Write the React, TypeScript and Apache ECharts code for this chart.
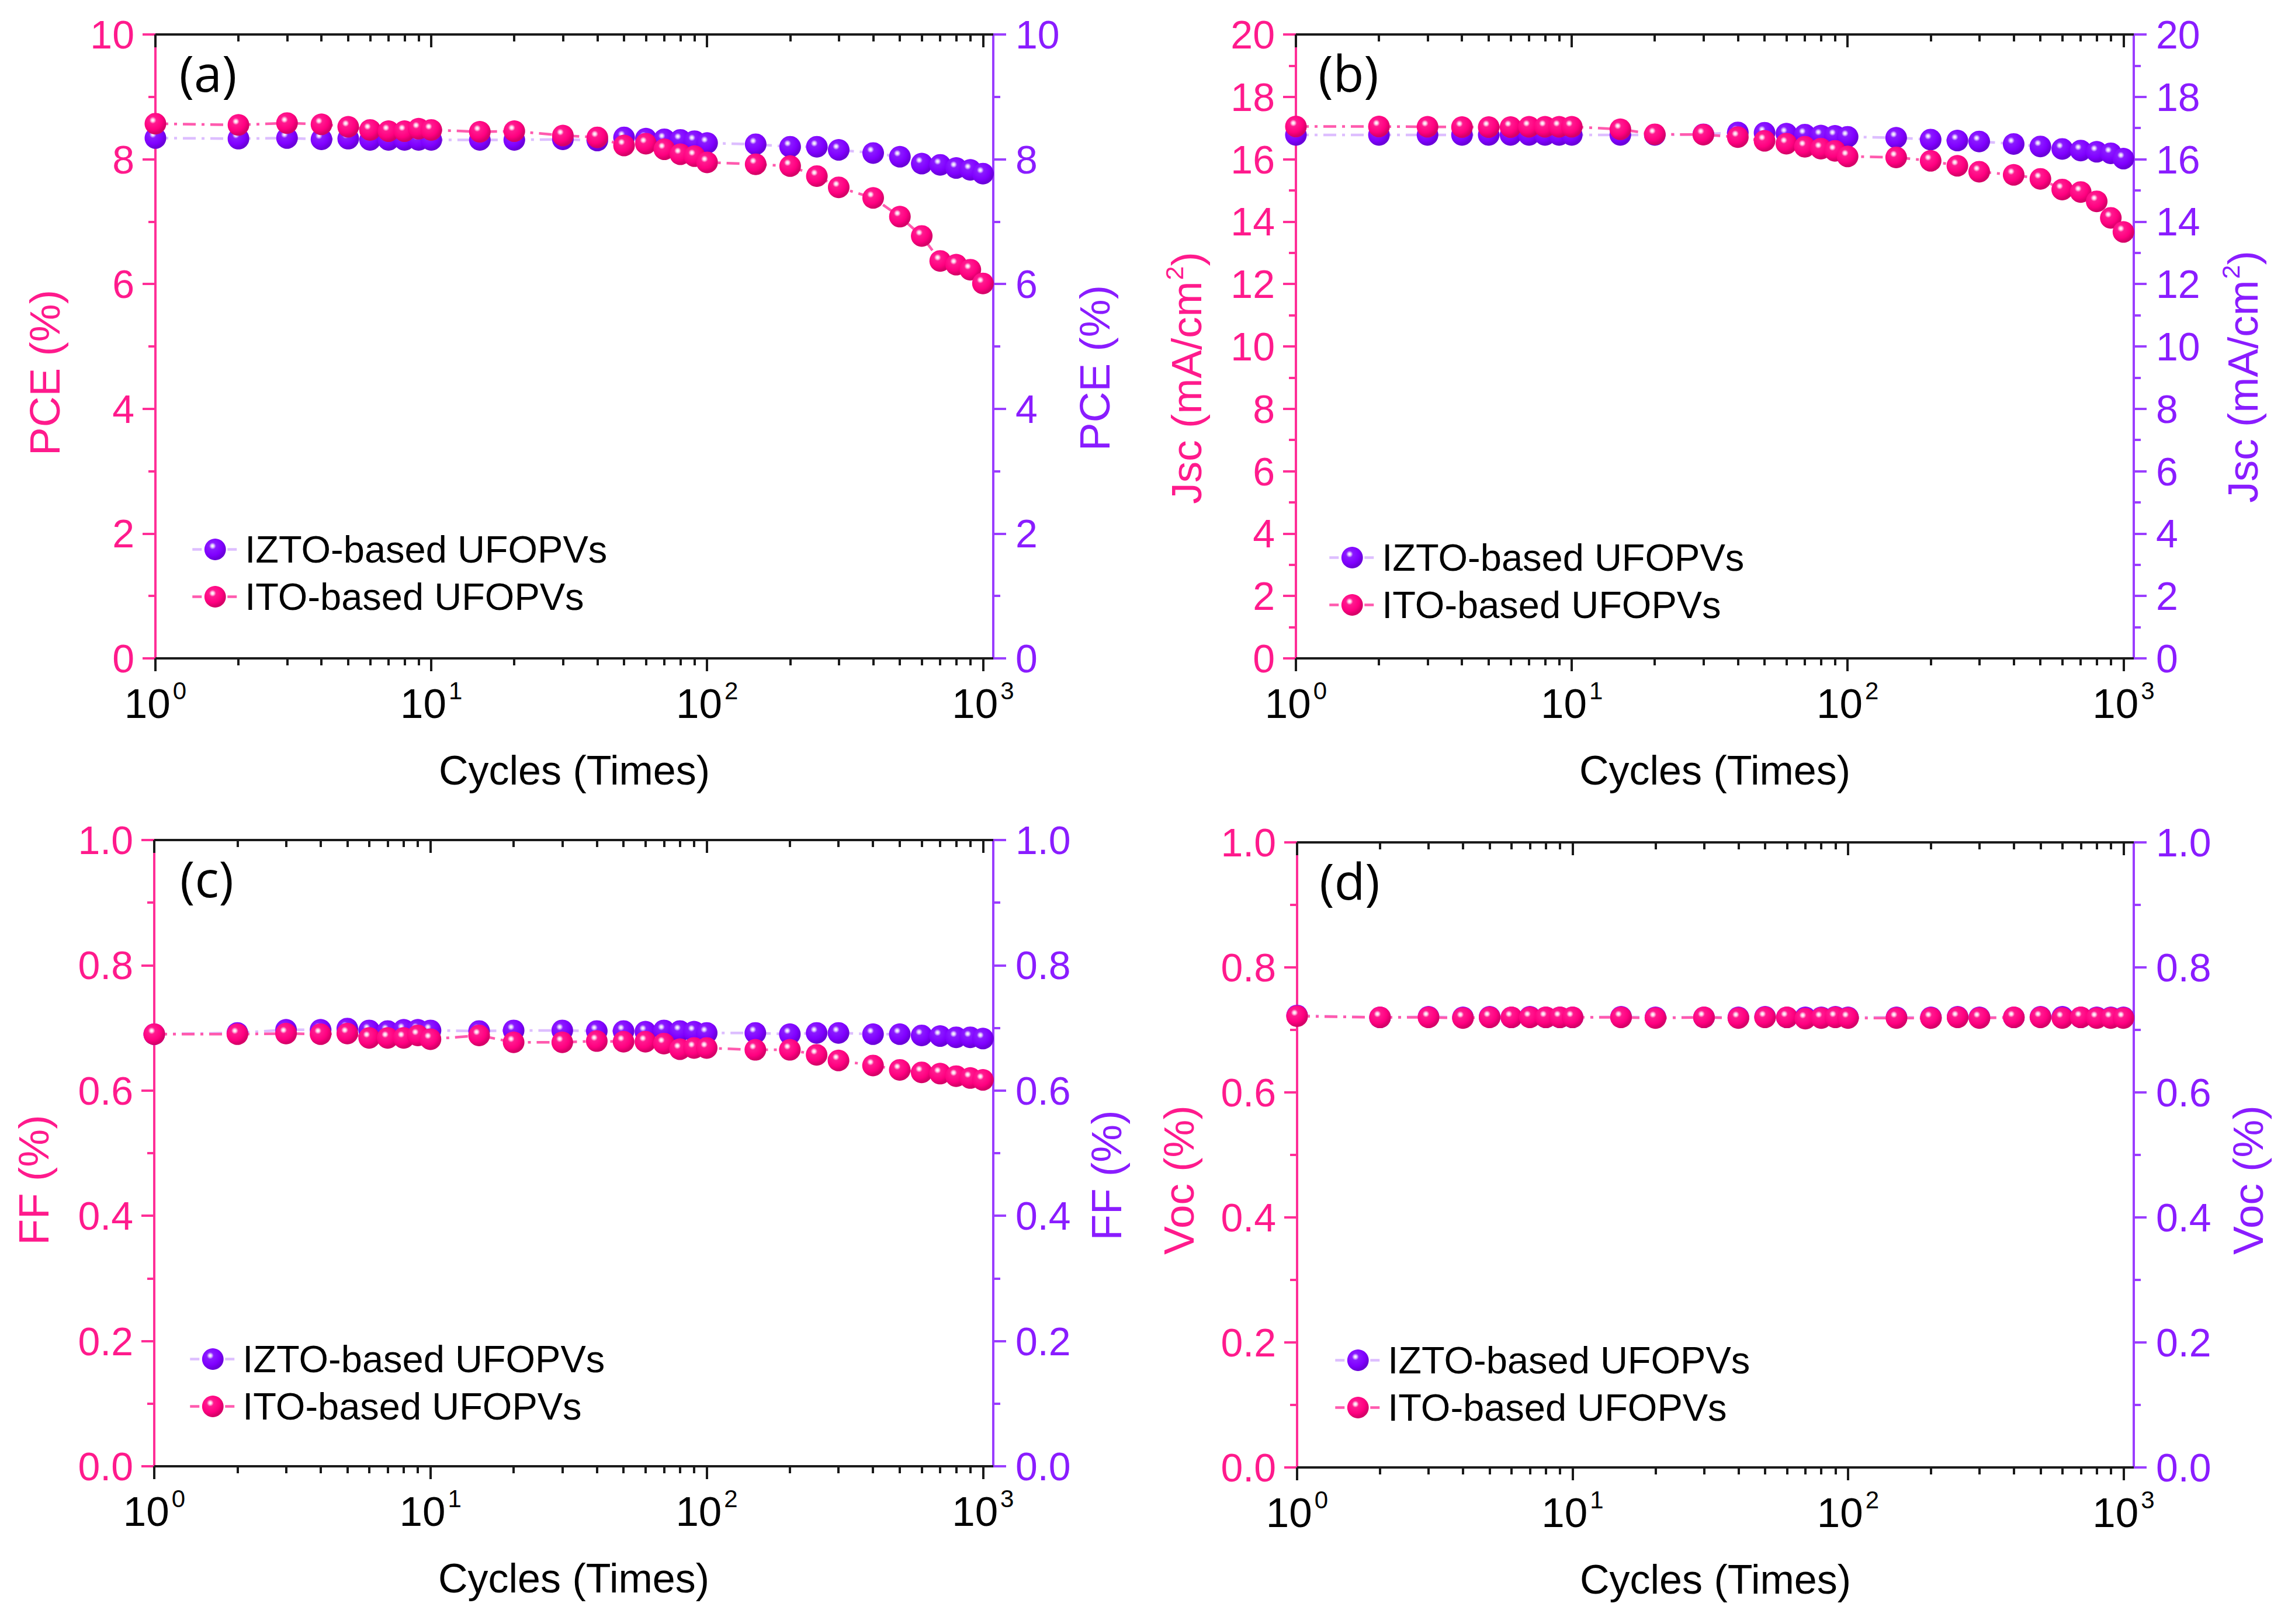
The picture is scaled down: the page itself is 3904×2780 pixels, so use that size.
import React, { useEffect, useRef } from 'react';
import * as echarts from 'echarts';

// ---------------- data ----------------
const cycles = [1, 2, 3, 4, 5, 6, 7, 8, 9, 10, 15, 20, 30, 40, 50, 60, 70, 80, 90, 100, 150, 200, 250, 300, 400, 500, 600, 700, 800, 900, 1000];

const pceITO = [8.57, 8.55, 8.58, 8.56, 8.52, 8.47, 8.45, 8.45, 8.49, 8.47, 8.44, 8.45, 8.38, 8.35, 8.22, 8.25, 8.16, 8.08, 8.05, 7.95, 7.92, 7.89, 7.73, 7.55, 7.38, 7.08, 6.77, 6.37, 6.31, 6.23, 6.01];
const pceIZTO = [8.34, 8.33, 8.34, 8.32, 8.33, 8.31, 8.31, 8.31, 8.31, 8.31, 8.31, 8.31, 8.32, 8.3, 8.35, 8.33, 8.32, 8.31, 8.29, 8.26, 8.24, 8.2, 8.2, 8.15, 8.1, 8.04, 7.93, 7.91, 7.86, 7.83, 7.77];

const jscITO = [17.05, 17.05, 17.04, 17.03, 17.03, 17.03, 17.04, 17.04, 17.04, 17.04, 16.96, 16.8, 16.79, 16.71, 16.59, 16.5, 16.4, 16.34, 16.27, 16.09, 16.06, 15.95, 15.79, 15.6, 15.5, 15.37, 15.03, 14.95, 14.65, 14.12, 13.67];
const jscIZTO = [16.78, 16.78, 16.78, 16.78, 16.78, 16.78, 16.78, 16.78, 16.78, 16.78, 16.78, 16.78, 16.8, 16.86, 16.85, 16.82, 16.79, 16.76, 16.75, 16.72, 16.69, 16.63, 16.6, 16.57, 16.49, 16.41, 16.33, 16.28, 16.24, 16.19, 16.02];

const ffITO = [0.69, 0.69, 0.691, 0.69, 0.691, 0.684, 0.684, 0.684, 0.688, 0.682, 0.688, 0.677, 0.677, 0.679, 0.678, 0.678, 0.675, 0.666, 0.668, 0.668, 0.665, 0.665, 0.657, 0.648, 0.64, 0.633, 0.629, 0.627, 0.623, 0.62, 0.617];
const ffIZTO = [0.69, 0.692, 0.697, 0.697, 0.699, 0.696, 0.695, 0.697, 0.697, 0.696, 0.695, 0.696, 0.696, 0.695, 0.695, 0.694, 0.696, 0.695, 0.694, 0.692, 0.692, 0.69, 0.692, 0.692, 0.69, 0.69, 0.688, 0.687, 0.685, 0.685, 0.683];

const vocITO = [0.722, 0.72, 0.72, 0.719, 0.72, 0.72, 0.72, 0.72, 0.72, 0.72, 0.72, 0.719, 0.72, 0.719, 0.72, 0.72, 0.718, 0.719, 0.72, 0.719, 0.719, 0.719, 0.72, 0.719, 0.72, 0.72, 0.719, 0.72, 0.719, 0.719, 0.719];
const vocIZTO = [0.723, 0.72, 0.721, 0.72, 0.721, 0.72, 0.721, 0.72, 0.72, 0.72, 0.721, 0.72, 0.72, 0.72, 0.721, 0.72, 0.72, 0.72, 0.721, 0.72, 0.72, 0.72, 0.721, 0.72, 0.72, 0.721, 0.721, 0.72, 0.72, 0.72, 0.72];

const xMajorTicks = [1, 10, 100, 1000];
const xMinorTicks = [2, 3, 4, 5, 6, 7, 8, 9, 20, 30, 40, 50, 60, 70, 80, 90, 200, 300, 400, 500, 600, 700, 800, 900];

const seriesNames = ['IZTO-based UFOPVs', 'ITO-based UFOPVs'];
const panelLabels = ['(a)', '(b)', '(c)', '(d)'];
const xTitle = 'Cycles (Times)';

// ---------------- style ----------------
const FONT = "'Liberation Sans', Arial, Helvetica, sans-serif";
const PINK_AXIS = '#FF2E97';
const PINK_TEXT = '#FF1A8C';
const PURPLE_AXIS = '#9A3DFF';
const PURPLE_TEXT = '#8A1CFF';
const BLACK = '#1A1A1A';
const X_MAX = 1090;
const MARK = 37;

const pinkBall = () =>
  new echarts.graphic.RadialGradient(0.38, 0.34, 0.62, [
    { offset: 0, color: '#FFFFFF' },
    { offset: 0.1, color: '#FFD6EC' },
    { offset: 0.26, color: '#FF1A8F' },
    { offset: 0.7, color: '#FF0080' },
    { offset: 1, color: '#D60068' },
  ]);
const purpleBall = () =>
  new echarts.graphic.RadialGradient(0.38, 0.34, 0.62, [
    { offset: 0, color: '#FFFFFF' },
    { offset: 0.1, color: '#E4D0FF' },
    { offset: 0.26, color: '#8A1AFF' },
    { offset: 0.7, color: '#8000FF' },
    { offset: 1, color: '#6A00DA' },
  ]);

type Panel = {
  grid: { left: number; top: number; width: number; height: number };
  yMax: number;
  yInterval: number;
  decimals: number;
  ito: number[];
  izto: number[];
  leftTitle: string;
  rightTitle: string;
  leftTitlePos: [number, number];
  rightTitlePos: [number, number];
  legendPos: [number, number];
};

const panels: Panel[] = [
  {
    grid: { left: 266, top: 59, width: 1434, height: 1068 },
    yMax: 10, yInterval: 2, decimals: 0, ito: pceITO, izto: pceIZTO,
    leftTitle: '{m|PCE (%)}', rightTitle: '{m|PCE (%)}',
    leftTitlePos: [76, 638], rightTitlePos: [1873, 630], legendPos: [327, 908],
  },
  {
    grid: { left: 2218, top: 59, width: 1434, height: 1068 },
    yMax: 20, yInterval: 2, decimals: 0, ito: jscITO, izto: jscIZTO,
    leftTitle: '{m|Jsc (mA/cm}{s|2}{m|)}', rightTitle: '{m|Jsc (mA/cm}{s|2}{m|)}',
    leftTitlePos: [2030, 647], rightTitlePos: [3838, 645], legendPos: [2273, 922],
  },
  {
    grid: { left: 264, top: 1438, width: 1436, height: 1072 },
    yMax: 1, yInterval: 0.2, decimals: 1, ito: ffITO, izto: ffIZTO,
    leftTitle: '{m|FF (%)}', rightTitle: '{m|FF (%)}',
    leftTitlePos: [57, 2020], rightTitlePos: [1893, 2012], legendPos: [323, 2294],
  },
  {
    grid: { left: 2220, top: 1442, width: 1432, height: 1070 },
    yMax: 1, yInterval: 0.2, decimals: 1, ito: vocITO, izto: vocIZTO,
    leftTitle: '{m|Voc (%)}', rightTitle: '{m|Voc (%)}',
    leftTitlePos: [2017, 2020], rightTitlePos: [3847, 2020], legendPos: [2283, 2296],
  },
];

function titleText(text: string, x: number, y: number, color: string) {
  return {
    type: 'text',
    x,
    y,
    rotation: Math.PI / 2,
    silent: true,
    style: {
      text,
      fill: color,
      align: 'center',
      verticalAlign: 'middle',
      rich: {
        m: { fontSize: 73, lineHeight: 84, fontFamily: FONT, fill: color },
        s: { fontSize: 43, lineHeight: 43, verticalAlign: 'top', fontFamily: FONT, fill: color, padding: [0, 0, 0, 2] },
      },
    },
  };
}

function buildOption() {
  const grid: any[] = [];
  const xAxis: any[] = [];
  const yAxis: any[] = [];
  const series: any[] = [];
  const legend: any[] = [];
  const graphic: any[] = [];

  panels.forEach((p, i) => {
    grid.push({ ...p.grid, containLabel: false, outerBoundsMode: 'none' });

    const xBase = {
      type: 'log',
      logBase: 10,
      gridIndex: i,
      min: 1,
      max: X_MAX,
      splitLine: { show: false },
      minorTick: { show: false },
      minorSplitLine: { show: false },
      silent: true,
    };
    const blackLine = { color: BLACK, width: 4 };
    // bottom major
    xAxis.push({
      ...xBase,
      position: 'bottom',
      axisLine: { show: true, onZero: false, lineStyle: blackLine },
      axisTick: { show: true, customValues: xMajorTicks, length: 22, lineStyle: blackLine },
      axisLabel: {
        show: true,
        customValues: xMajorTicks,
        margin: 34,
        formatter: (v: number) => `{b|10}{s|${Math.round(Math.log10(v))}}`,
        rich: {
          b: { fontSize: 71, lineHeight: 86, fontFamily: FONT, color: '#000' },
          s: { fontSize: 42, lineHeight: 42, verticalAlign: 'top', fontFamily: FONT, color: '#000', padding: [0, 0, 0, 4] },
        },
      },
      name: xTitle,
      nameLocation: 'middle',
      nameGap: 157,
      nameTextStyle: { fontSize: 70, fontFamily: FONT, color: '#000' },
    });
    // bottom minor
    xAxis.push({
      ...xBase,
      position: 'bottom',
      axisLine: { show: false, onZero: false },
      axisTick: { show: true, customValues: xMinorTicks, length: 12, lineStyle: blackLine },
      axisLabel: { show: false },
    });
    // top major
    xAxis.push({
      ...xBase,
      position: 'top',
      axisLine: { show: true, onZero: false, lineStyle: blackLine },
      axisTick: { show: true, inside: true, customValues: xMajorTicks, length: 22, lineStyle: blackLine },
      axisLabel: { show: false },
    });
    // top minor
    xAxis.push({
      ...xBase,
      position: 'top',
      axisLine: { show: false, onZero: false },
      axisTick: { show: true, inside: true, customValues: xMinorTicks, length: 12, lineStyle: blackLine },
      axisLabel: { show: false },
    });

    const yBase = (pos: 'left' | 'right', lineColor: string, textColor: string) => ({
      type: 'value',
      gridIndex: i,
      position: pos,
      min: 0,
      max: p.yMax,
      interval: p.yInterval,
      silent: true,
      axisLine: { show: true, onZero: false, lineStyle: { color: lineColor, width: 4 } },
      axisTick: { show: true, length: 22, lineStyle: { color: lineColor, width: 4 } },
      minorTick: { show: true, splitNumber: 2, length: 12, lineStyle: { color: lineColor, width: 4 } },
      splitLine: { show: false },
      minorSplitLine: { show: false },
      axisLabel: {
        color: textColor,
        fontSize: 68,
        fontFamily: FONT,
        margin: pos === 'left' ? 36 : 38,
        formatter: (v: number) => v.toFixed(p.decimals),
      },
    });
    yAxis.push(yBase('left', PINK_AXIS, PINK_TEXT));
    yAxis.push(yBase('right', PURPLE_AXIS, PURPLE_TEXT));

    series.push({
      type: 'line',
      name: seriesNames[0],
      xAxisIndex: i * 4,
      yAxisIndex: i * 2 + 1,
      data: cycles.map((c, k) => [c, p.izto[k]]),
      symbol: 'circle',
      symbolSize: MARK,
      silent: true,
      lineStyle: { color: '#DDBEFF', width: 4.5, type: [22, 10, 5, 10] },
      itemStyle: { color: purpleBall() },
      emphasis: { disabled: true },
      z: 2,
    });
    series.push({
      type: 'line',
      name: seriesNames[1],
      xAxisIndex: i * 4,
      yAxisIndex: i * 2,
      data: cycles.map((c, k) => [c, p.ito[k]]),
      symbol: 'circle',
      symbolSize: MARK,
      silent: true,
      lineStyle: { color: '#FF5AAE', width: 4.5, type: [22, 10, 5, 10] },
      itemStyle: { color: pinkBall() },
      emphasis: { disabled: true },
      z: 3,
    });

    legend.push({
      show: true,
      left: p.legendPos[0],
      top: p.legendPos[1],
      orient: 'vertical',
      padding: 0,
      itemWidth: 78,
      itemHeight: 46,
      itemGap: 16,
      selectedMode: false,
      data: seriesNames,
      lineStyle: { type: [16, 44], width: 4.5 },
      textStyle: { fontSize: 65, lineHeight: 42, fontFamily: FONT, color: '#000', padding: [0, 0, 22, 7] },
    });

    graphic.push({
      type: 'text',
      x: p.grid.left + 90,
      y: p.grid.top + 64,
      silent: true,
      style: {
        text: panelLabels[i],
        fontSize: 86,
        fontFamily: "'Open Sans', 'Noto Sans', sans-serif",
        fill: '#000',
        align: 'center',
        verticalAlign: 'middle',
      },
    });
    graphic.push(titleText(p.leftTitle, p.leftTitlePos[0], p.leftTitlePos[1], PINK_TEXT));
    graphic.push(titleText(p.rightTitle, p.rightTitlePos[0], p.rightTitlePos[1], PURPLE_TEXT));
  });

  return {
    animation: false,
    backgroundColor: '#FFFFFF',
    textStyle: { fontFamily: FONT },
    grid,
    xAxis,
    yAxis,
    series,
    legend,
    graphic,
  };
}

export default function App() {
  const ref = useRef<HTMLDivElement>(null);
  useEffect(() => {
    if (!ref.current) return;
    const chart = echarts.init(ref.current, null, { renderer: 'svg' });
    chart.setOption(buildOption() as any);
    return () => chart.dispose();
  }, []);
  return (
    <div
      ref={ref}
      style={{ position: 'absolute', left: 0, top: 0, width: 3904, height: 2780, background: '#fff' }}
    />
  );
}
